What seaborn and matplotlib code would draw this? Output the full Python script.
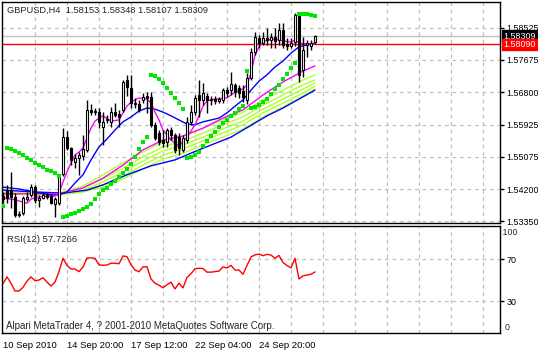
import numpy as np
import pandas as pd
import seaborn as sns
import matplotlib.pyplot as plt

# H4 bars (open, high, low, close)
opens = [1.5402, 1.5416, 1.5418, 1.5400, 1.5354, 1.5357, 1.5394, 1.5405, 1.5426, 1.5392,
         1.5397, 1.5405, 1.5402, 1.5381, 1.5383, 1.5461, 1.5560, 1.5531, 1.5493, 1.5504,
         1.5509, 1.5525, 1.5633, 1.5627, 1.5627, 1.5587, 1.5606, 1.5601, 1.5627, 1.5622,
         1.5633, 1.5713, 1.5692, 1.5651, 1.5649, 1.5660, 1.5670, 1.5668, 1.5593, 1.5571,
         1.5552, 1.5547, 1.5579, 1.5565, 1.5560, 1.5525, 1.5552, 1.5601, 1.5627, 1.5673,
         1.5660, 1.5670, 1.5660, 1.5662, 1.5657, 1.5660, 1.5686, 1.5686, 1.5700, 1.5692,
         1.5684, 1.5660, 1.5718, 1.5788, 1.5826, 1.5812, 1.5826, 1.5820, 1.5828, 1.5820,
         1.5847, 1.5810, 1.5804, 1.5815, 1.5885, 1.5740, 1.5807, 1.5804, 1.58153]
highs = [1.5413, 1.5432, 1.5466, 1.5410, 1.5362, 1.5402, 1.5413, 1.5434, 1.5432, 1.5405,
         1.5413, 1.5410, 1.5408, 1.5400, 1.5456, 1.5584, 1.5576, 1.5533, 1.5515, 1.5520,
         1.5565, 1.5660, 1.5649, 1.5638, 1.5638, 1.5627, 1.5619, 1.5641, 1.5651, 1.5633,
         1.5713, 1.5727, 1.5727, 1.5665, 1.5660, 1.5678, 1.5681, 1.5681, 1.5601, 1.5579,
         1.5579, 1.5584, 1.5587, 1.5571, 1.5571, 1.5565, 1.5614, 1.5646, 1.5673, 1.5713,
         1.5705, 1.5678, 1.5670, 1.5670, 1.5668, 1.5692, 1.5694, 1.5735, 1.5705, 1.5700,
         1.5700, 1.5732, 1.5799, 1.5842, 1.5834, 1.5842, 1.5853, 1.5839, 1.5853, 1.5866,
         1.5866, 1.5826, 1.5826, 1.5893, 1.5895, 1.5828, 1.5820, 1.5820, 1.58348]
lows = [1.5383, 1.5383, 1.5370, 1.5346, 1.5346, 1.5351, 1.5389, 1.5400, 1.5383, 1.5373,
        1.5394, 1.5394, 1.5381, 1.5346, 1.5378, 1.5456, 1.5525, 1.5485, 1.5477, 1.5458,
        1.5499, 1.5520, 1.5619, 1.5619, 1.5584, 1.5539, 1.5598, 1.5587, 1.5614, 1.5587,
        1.5627, 1.5670, 1.5638, 1.5638, 1.5627, 1.5651, 1.5625, 1.5587, 1.5552, 1.5539,
        1.5533, 1.5533, 1.5552, 1.5517, 1.5512, 1.5520, 1.5544, 1.5593, 1.5619, 1.5614,
        1.5646, 1.5625, 1.5646, 1.5649, 1.5651, 1.5651, 1.5668, 1.5673, 1.5668, 1.5665,
        1.5654, 1.5649, 1.5713, 1.5780, 1.5799, 1.5807, 1.5807, 1.5799, 1.5799, 1.5807,
        1.5799, 1.5794, 1.5799, 1.5804, 1.5708, 1.5721, 1.5775, 1.5794, 1.58107]
closes = [1.5394, 1.5397, 1.5400, 1.5351, 1.5351, 1.5397, 1.5400, 1.5426, 1.5392, 1.5397,
          1.5405, 1.5400, 1.5383, 1.5394, 1.5453, 1.5560, 1.5531, 1.5499, 1.5504, 1.5512,
          1.5528, 1.5633, 1.5627, 1.5630, 1.5601, 1.5601, 1.5608, 1.5627, 1.5619, 1.5614,
          1.5708, 1.5694, 1.5651, 1.5649, 1.5633, 1.5668, 1.5665, 1.5593, 1.5557, 1.5547,
          1.5544, 1.5579, 1.5565, 1.5525, 1.5531, 1.5557, 1.5601, 1.5627, 1.5665, 1.5660,
          1.5678, 1.5660, 1.5662, 1.5657, 1.5662, 1.5686, 1.5678, 1.5702, 1.5681, 1.5678,
          1.5668, 1.5718, 1.5788, 1.5828, 1.5812, 1.5826, 1.5820, 1.5828, 1.5818, 1.5847,
          1.5807, 1.5804, 1.5812, 1.5887, 1.5727, 1.5794, 1.5812, 1.5812, 1.58309]

# Parabolic SAR dots, one per bar
sar = [1.5375, 1.5531, 1.5527, 1.5523, 1.5517, 1.5512, 1.5505, 1.5499, 1.5492, 1.5485,
       1.5480, 1.5473, 1.5468, 1.5464, 1.5457, 1.5346, 1.5349, 1.5353, 1.5357, 1.5362,
       1.5367, 1.5374, 1.5382, 1.5394, 1.5408, 1.5418, 1.5425, 1.5434, 1.5442, 1.5453,
       1.5464, 1.5475, 1.5488, 1.5507, 1.5527, 1.5547, 1.5559, 1.5727, 1.5724, 1.5716,
       1.5705, 1.5692, 1.5678, 1.5666, 1.5651, 1.5635, 1.5504, 1.5508, 1.5512, 1.5521,
       1.5535, 1.5550, 1.5562, 1.5575, 1.5586, 1.5597, 1.5606, 1.5617, 1.5626, 1.5635,
       1.5643, 1.5737, 1.5639, 1.5642, 1.5646, 1.5653, 1.5662, 1.5676, 1.5689, 1.5700,
       1.5716, 1.5729, 1.5744, 1.5759, 1.5890, 1.5890, 1.5889, 1.5888, 1.5885]

# RSI(12), one per bar
rsi = [46.5, 53, 47, 39.5, 39.5, 43, 49, 53, 49.3, 50,
       52.2, 48, 44.3, 48, 58, 70.7, 64, 60.5, 60.5, 58,
       62.5, 71, 71.2, 70.7, 64.5, 64, 64.3, 66, 66, 65.5,
       73, 72.2, 64.5, 59.5, 57.9, 62.5, 62.7, 51, 47, 45,
       42.7, 45.5, 48, 41.5, 47, 42.5, 52.5, 56, 60.8, 61.2,
       61, 57.5, 57.5, 58, 58.5, 62.5, 61.5, 64, 59.5, 59.5,
       55.5, 64, 72, 74, 74.8, 73.2, 74.5, 73.8, 70.7, 73.5,
       66.7, 63.8, 61.6, 70.7, 51, 54, 54.8, 55.5, 57.7266]

# moving averages, read at selected bars
fast_idx = [0, 3, 6, 7, 9, 13, 14, 15, 16, 17, 18, 19, 20, 21, 22, 23, 24, 25, 27, 29,
            30, 31, 32, 34, 36, 37, 38, 39, 40, 42, 44, 46, 48, 49, 50, 51, 53, 56, 58, 60,
            61, 62, 63, 64, 65, 66, 68, 70, 72, 73, 74, 76, 78]
fast_val = [1.5397, 1.5392, 1.5383, 1.5394, 1.5400, 1.5402, 1.5410, 1.5440, 1.5467, 1.5491,
            1.5512, 1.5520, 1.5531, 1.5558, 1.5584, 1.5603, 1.5611, 1.5617, 1.5603, 1.5606,
            1.5625, 1.5643, 1.5654, 1.5665, 1.5662, 1.5651, 1.5627, 1.5606, 1.5579, 1.5552,
            1.5536, 1.5560, 1.5593, 1.5617, 1.5643, 1.5657, 1.5662, 1.5665, 1.5681, 1.5689,
            1.5700, 1.5732, 1.5780, 1.5802, 1.5815, 1.5820, 1.5823, 1.5818, 1.5815, 1.5820,
            1.5812, 1.5810, 1.5810]

mid_idx = [0, 4, 8, 12, 14, 16, 18, 20, 22, 24, 26, 28, 30, 32, 34, 36, 38, 40, 42, 44,
           46, 48, 50, 52, 54, 56, 58, 60, 62, 64, 66, 68, 70, 72, 74, 76, 78]
mid_val = [1.5426, 1.5421, 1.5413, 1.5405, 1.5405, 1.5413, 1.5437, 1.5459, 1.5499, 1.5534,
           1.5555, 1.5579, 1.5601, 1.5614, 1.5630, 1.5638, 1.5635, 1.5627, 1.5617, 1.5606,
           1.5595, 1.5593, 1.5601, 1.5606, 1.5611, 1.5625, 1.5643, 1.5660, 1.5686, 1.5710,
           1.5727, 1.5748, 1.5764, 1.5785, 1.5802, 1.5807, 1.5812]

slow_idx = [0, 8, 15, 21, 25, 31, 37, 43, 49, 57, 66, 70, 74, 78]
slow_val = [1.5418, 1.5413, 1.5410, 1.5418, 1.5432, 1.5459, 1.5483, 1.5499, 1.5526, 1.5560,
            1.5617, 1.5638, 1.5662, 1.5686]

fan_idx = [0, 14, 20, 25, 30, 35, 40, 45, 50, 55, 60, 65, 70, 75, 78]
pink_val = [1.5408, 1.5408, 1.5424, 1.5450, 1.5485, 1.5526, 1.5552, 1.5563, 1.5584, 1.5611,
            1.5633, 1.5673, 1.5708, 1.5737, 1.5751]
lime_1 = [1.5413, 1.5410, 1.5429, 1.5459, 1.5491, 1.5520, 1.5547, 1.5563, 1.5584, 1.5606,
          1.5627, 1.5660, 1.5686, 1.5713, 1.5727]
lime_2 = [1.5410, 1.5408, 1.5424, 1.5448, 1.5477, 1.5507, 1.5534, 1.5550, 1.5571, 1.5593,
          1.5614, 1.5646, 1.5673, 1.5700, 1.5713]
lime_3 = [1.5410, 1.5408, 1.5418, 1.5440, 1.5467, 1.5496, 1.5523, 1.5539, 1.5560, 1.5582,
          1.5603, 1.5635, 1.5662, 1.5689, 1.5705]
lime_4 = [1.5408, 1.5405, 1.5416, 1.5432, 1.5456, 1.5485, 1.5512, 1.5528, 1.5550, 1.5571,
          1.5593, 1.5625, 1.5651, 1.5678, 1.5697]
lime_5 = [1.5408, 1.5405, 1.5413, 1.5426, 1.5448, 1.5475, 1.5501, 1.5517, 1.5539, 1.5560,
          1.5582, 1.5614, 1.5641, 1.5670, 1.5689]

price_ticks = [1.58525, 1.57675, 1.56800, 1.55925, 1.55075, 1.54200, 1.53350]
bid_price = 1.58309
red_level = 1.58090
time_ticks = [0, 16, 32, 48, 64]
time_labels = ["10 Sep 2010", "14 Sep 20:00", "17 Sep 12:00", "22 Sep 04:00", "24 Sep 20:00"]

sns.set_style("white")
plt.rcParams["font.family"] = ["Liberation Sans", "DejaVu Sans"]
plt.rcParams["font.size"] = 6.8

W, H = 538, 351
fig = plt.figure(figsize=(W / 100, H / 100), dpi=100)
ax = fig.add_axes([2 / W, 1 - 223 / H, 498 / W, 221 / H])
ax2 = fig.add_axes([2 / W, 1 - 333 / H, 498 / W, 107 / H])

bars = np.arange(len(closes))
xlim = (-0.25, 124.25)
grid_kw = dict(color="#c0c0c0", lw=0.9, ls=(0, (3, 3)), zorder=0)
side_fs = 6.4

# price panel
for gx in range(8, 125, 8):
    ax.axvline(gx, **grid_kw)
    ax2.axvline(gx, **grid_kw)
for gy in price_ticks:
    ax.axhline(gy, **grid_kw)
for gy in [30, 70]:
    ax2.axhline(gy, **grid_kw)

ax.axhline(bid_price, color="#c0c0c0", lw=1, zorder=1)
ax.axhline(red_level, color="#ff0000", lw=1, zorder=1)

lines = [(fan_idx, lime_5, "#adff2f"), (fan_idx, lime_4, "#adff2f"), (fan_idx, lime_3, "#adff2f"),
         (fan_idx, lime_2, "#adff2f"), (fan_idx, lime_1, "#adff2f"),
         (slow_idx, slow_val, "#0000ff"), (fan_idx, pink_val, "#ff00ff"),
         (mid_idx, mid_val, "#0000ff"), (fast_idx, fast_val, "#ff00ff")]
for xs, ys, col in lines:
    sns.lineplot(x=xs, y=ys, ax=ax, color=col, lw=1, legend=False, zorder=2)

df = pd.DataFrame({"bar": bars, "o": opens, "h": highs, "l": lows, "c": closes})
ax.vlines(df["bar"], df["l"], df["h"], color="black", lw=1, zorder=3)
up = df[df["c"] >= df["o"]]
dn = df[df["c"] < df["o"]]
ax.bar(up["bar"], up["c"] - up["o"], bottom=up["o"], width=0.6,
       color="white", edgecolor="black", lw=0.8, zorder=4)
ax.bar(dn["bar"], dn["o"] - dn["c"], bottom=dn["c"], width=0.6,
       color="black", edgecolor="black", lw=0.8, zorder=4)

sns.scatterplot(x=bars, y=sar, ax=ax, marker="s", s=9, color="#00e600",
                linewidth=0, legend=False, zorder=5)

ax.set_xlim(xlim)
ax.set_ylim(1.532986, 1.592214)
ax.set_xticks([])
ax.yaxis.tick_right()
ax.set_yticks(price_ticks)
ax.set_yticklabels([f"{p:.5f}" for p in price_ticks])
ax.tick_params(axis="y", length=3, width=1, pad=1.5, colors="black", labelsize=side_fs)
ax.set_xlabel("")
ax.set_ylabel("")

for lvl, bg in [(bid_price, "black"), (red_level, "#ff0000")]:
    ax.annotate(f"{lvl:.5f}", xy=(1.0, lvl), xycoords=("axes fraction", "data"),
                xytext=(2.5, 0), textcoords="offset points", va="center", ha="left",
                color="white", fontsize=side_fs,
                bbox=dict(boxstyle="square,pad=0.12", fc=bg, ec=bg))

ax.text(0.01, 0.985, "GBPUSD,H4  1.58153 1.58348 1.58107 1.58309", transform=ax.transAxes,
        va="top", ha="left", fontsize=6.7)

# RSI panel
sns.lineplot(x=bars, y=rsi, ax=ax2, color="#ff0000", lw=1, legend=False, zorder=2)
ax2.set_xlim(xlim)
ax2.set_ylim(-0.5, 101.5)
ax2.yaxis.tick_right()
ax2.set_yticks([30, 70])
ax2.set_yticklabels(["30", "70"])
ax2.tick_params(axis="y", length=3, width=1, pad=1.5, colors="black", labelsize=side_fs)
ax2.text(1.0, 0.94, " 100", transform=ax2.transAxes, va="center", ha="left", fontsize=side_fs)
ax2.text(1.0, 0.05, "  0", transform=ax2.transAxes, va="center", ha="left", fontsize=side_fs)
ax2.set_xticks(time_ticks)
ax2.set_xticklabels(time_labels, ha="left")
ax2.tick_params(axis="x", length=4, width=1, pad=2, colors="black", labelsize=6.8)
ax2.set_xlabel("")
ax2.set_ylabel("")
ax2.text(0.01, 0.87, "RSI(12) 57.7266", transform=ax2.transAxes, va="center", ha="left",
         fontsize=6.8)
ax2.text(0.008, 0.07, "Alpari MetaTrader 4, ? 2001-2010 MetaQuotes Software Corp.",
         transform=ax2.transAxes, va="center", ha="left", fontsize=7.0)

for a in (ax, ax2):
    for s in a.spines.values():
        s.set_visible(True)
        s.set_color("black")
        s.set_linewidth(1)

fig.savefig("out.png", dpi=100, facecolor="white")
